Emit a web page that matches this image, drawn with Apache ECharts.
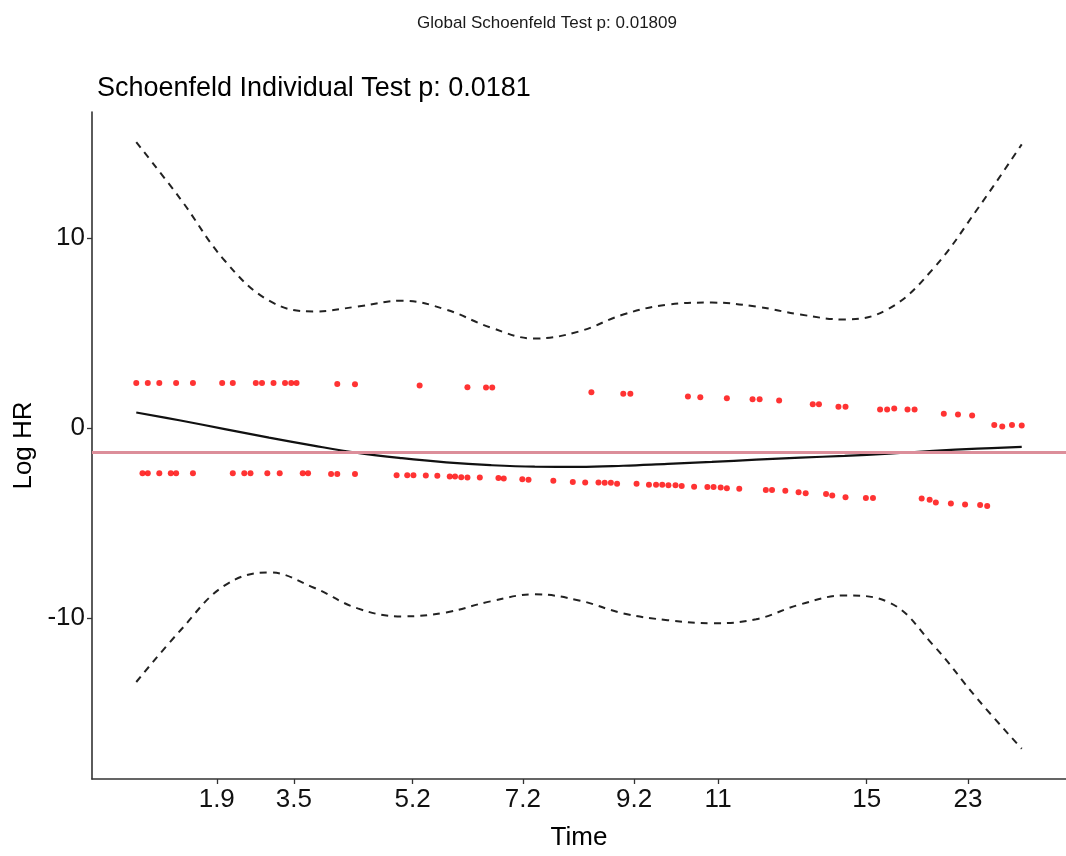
<!DOCTYPE html>
<html>
<head>
<meta charset="utf-8">
<script src="https://cdn.jsdelivr.net/npm/echarts@6/dist/echarts.min.js"></script>
<style>
  html, body { margin: 0; padding: 0; background: #fff; }
  #main { width: 1066px; height: 856px; }
</style>
</head>
<body>
<div id="main"></div>
<script>
// transformed time (0-100 along the km-scaled axis) and scaled Schoenfeld residuals
var upperTime = [0, 1.3, 2.6, 4.5, 6.4, 9.7, 10.9, 13.5, 14.2, 15.5, 16.8, 17.5, 18.1, 22.7, 24.7, 32.0, 37.4, 39.5, 40.2, 51.4, 55.0, 55.8, 62.3, 63.7, 66.7, 69.6, 70.4, 72.6, 76.4, 77.1, 79.3, 80.1, 84.0, 84.8, 85.6, 87.1, 87.9, 91.2, 92.8, 94.4, 96.9, 97.8, 98.9, 100];
var upperRes = [2.37, 2.37, 2.37, 2.37, 2.37, 2.37, 2.37, 2.37, 2.37, 2.37, 2.37, 2.37, 2.37, 2.32, 2.30, 2.24, 2.15, 2.13, 2.13, 1.88, 1.80, 1.80, 1.66, 1.62, 1.57, 1.52, 1.52, 1.45, 1.26, 1.26, 1.12, 1.12, 0.98, 0.98, 1.03, 0.98, 0.98, 0.75, 0.72, 0.66, 0.16, 0.09, 0.16, 0.14];

var lowerTime = [0.7, 1.3, 2.6, 3.9, 4.5, 6.4, 10.9, 12.2, 12.9, 14.8, 16.2, 18.8, 19.4, 22.0, 22.7, 24.7, 29.4, 30.6, 31.3, 32.7, 34.0, 35.4, 36.0, 36.7, 37.4, 38.8, 40.9, 41.5, 43.6, 44.3, 47.1, 49.3, 50.7, 52.2, 52.9, 53.6, 54.3, 56.5, 57.9, 58.7, 59.4, 60.1, 60.9, 61.6, 63.0, 64.5, 65.2, 66.0, 66.7, 68.1, 71.1, 71.8, 73.3, 74.8, 75.6, 77.9, 78.6, 80.1, 82.4, 83.2, 88.7, 89.6, 90.3, 92.0, 93.6, 95.3, 96.1];
var lowerRes = [-2.37, -2.37, -2.37, -2.37, -2.37, -2.37, -2.37, -2.37, -2.37, -2.37, -2.37, -2.37, -2.37, -2.42, -2.42, -2.42, -2.48, -2.48, -2.48, -2.49, -2.51, -2.54, -2.55, -2.58, -2.60, -2.60, -2.62, -2.65, -2.69, -2.72, -2.77, -2.83, -2.86, -2.86, -2.88, -2.88, -2.92, -2.93, -2.98, -2.98, -2.98, -3.00, -3.01, -3.04, -3.09, -3.10, -3.10, -3.12, -3.16, -3.19, -3.25, -3.25, -3.30, -3.37, -3.42, -3.46, -3.54, -3.63, -3.68, -3.68, -3.70, -3.77, -3.91, -3.96, -4.02, -4.05, -4.10];

// smoothed fit and confidence band
var fitTime = [0, 5, 10, 15, 20, 25, 30, 35, 40, 45, 50, 55, 60, 65, 70, 75, 80, 85, 90, 95, 100];
var fitBeta = [0.82, 0.40, -0.05, -0.50, -0.92, -1.30, -1.58, -1.80, -1.95, -2.03, -2.04, -1.98, -1.88, -1.78, -1.66, -1.55, -1.46, -1.34, -1.20, -1.08, -0.99];
var fitUpper = [15.03, 12.04, 8.80, 6.70, 6.13, 6.39, 6.70, 6.23, 5.29, 4.71, 5.08, 5.97, 6.49, 6.60, 6.39, 5.97, 5.71, 6.28, 8.38, 11.52, 14.92];
var fitLower = [-13.35, -10.63, -8.27, -7.59, -8.38, -9.48, -9.90, -9.69, -9.11, -8.74, -9.06, -9.74, -10.10, -10.26, -10.05, -9.27, -8.80, -9.16, -11.41, -14.24, -16.86];

var coefLine = -1.28;

// time axis ticks
var tickPos = [9.09, 17.79, 31.2, 43.66, 56.23, 65.71, 82.49, 93.94];
var tickLabels = ['1.9', '3.5', '5.2', '7.2', '9.2', '11', '15', '23'];
var yTicks = [-10, 0, 10];

function zip(a, b) {
    var out = [];
    for (var i = 0; i < a.length; i++) out.push([a[i], b[i]]);
    return out;
}

var font = 'Liberation Sans, Arial, sans-serif';
var myChart = echarts.init(document.getElementById('main'));

myChart.setOption({
    animation: false,
    backgroundColor: '#fff',
    title: [{
        text: 'Global Schoenfeld Test p: 0.01809',
        left: 542, top: 10, textAlign: 'center',
        textStyle: { fontFamily: font, fontSize: 17, fontWeight: 'normal', color: '#1a1a1a' }
    }, {
        text: 'Schoenfeld Individual Test p: 0.0181',
        left: 92, top: 70,
        textStyle: { fontFamily: font, fontSize: 27, fontWeight: 'normal', color: '#000' }
    }],
    grid: { left: 92, top: 112, width: 980, height: 671, containLabel: false },
    xAxis: {
        type: 'value', min: -5, max: 105,
        name: 'Time', nameLocation: 'middle', nameGap: 46,
        nameTextStyle: { fontFamily: font, fontSize: 26, color: '#000' },
        splitLine: { show: false },
        axisLine: { show: true, onZero: false, lineStyle: { color: '#333', width: 1.6 } },
        axisTick: { show: true, length: 5, customValues: tickPos, lineStyle: { color: '#333', width: 1.3 } },
        axisLabel: {
            customValues: tickPos, margin: 8,
            fontFamily: font, fontSize: 26, color: '#111',
            formatter: function (v) {
                var best = 0;
                for (var i = 0; i < tickPos.length; i++) {
                    if (Math.abs(tickPos[i] - v) < Math.abs(tickPos[best] - v)) best = i;
                }
                return tickLabels[best];
            }
        }
    },
    yAxis: {
        type: 'value', min: -18.45, max: 16.62,
        name: 'Log HR', nameLocation: 'middle', nameGap: 50, nameRotate: 90,
        nameTextStyle: { fontFamily: font, fontSize: 26, color: '#000' },
        splitLine: { show: false },
        axisLine: { show: true, onZero: false, lineStyle: { color: '#333', width: 1.6 } },
        axisTick: { show: true, length: 5, customValues: yTicks, lineStyle: { color: '#333', width: 1.3 } },
        axisLabel: {
            customValues: yTicks, margin: 7,
            fontFamily: font, fontSize: 26, color: '#111'
        }
    },
    series: [{
        type: 'line', data: zip(fitTime, fitUpper), smooth: 0.4, symbol: 'none',
        lineStyle: { color: '#222', width: 2, type: [7, 6] }, z: 2
    }, {
        type: 'line', data: zip(fitTime, fitLower), smooth: 0.4, symbol: 'none',
        lineStyle: { color: '#222', width: 2, type: [7, 6] }, z: 2
    }, {
        type: 'line', data: zip(fitTime, fitBeta), smooth: 0.4, symbol: 'none',
        lineStyle: { color: '#111', width: 2.2 }, z: 3,
        markLine: {
            silent: true, symbol: ['none', 'none'], label: { show: false },
            lineStyle: { color: '#DC8E9A', width: 3, type: 'solid' },
            data: [{ yAxis: coefLine }]
        }
    }, {
        type: 'scatter', data: zip(upperTime, upperRes), symbolSize: 6,
        itemStyle: { color: '#FF0000' }, z: 4
    }, {
        type: 'scatter', data: zip(lowerTime, lowerRes), symbolSize: 6,
        itemStyle: { color: '#FF0000' }, z: 4
    }]
});
</script>
</body>
</html>
